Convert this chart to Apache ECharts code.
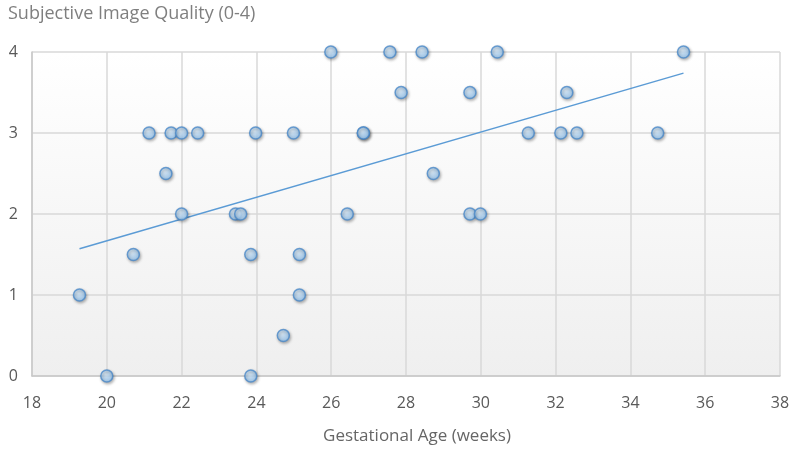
<!DOCTYPE html>
<html><head><meta charset="utf-8">
<script src="https://cdn.jsdelivr.net/npm/echarts@6/dist/echarts.min.js"></script>
<style>html,body{margin:0;padding:0;background:#fff}#c{width:793px;height:450px}</style>
</head><body><div id="c"></div>
<script>
const ageWeeks = [19.27,20.0,20.71,21.13,21.58,21.72,22.0,22.0,22.43,23.44,23.58,23.85,23.85,23.98,24.72,24.99,25.15,25.15,25.99,26.43,26.86,26.86,27.57,27.87,28.43,28.73,29.71,29.71,29.99,30.44,31.27,32.14,32.3,32.57,34.73,35.42];
const quality  = [1,0,1.5,3,2.5,3,3,2,3,2,2,1.5,0,3,0.5,3,1.5,1,4,2,3,3,4,3.5,4,2.5,3.5,2,2,4,3,3,3.5,3,3,4];
const xTicks = [18,20,22,24,26,28,30,32,34,36,38];
const yTicks = [0,1,2,3,4];
const yTitle = 'Subjective Image Quality (0-4)';
const xTitle = 'Gestational Age (weeks)';

const pts = ageWeeks.map((x,i)=>[x,quality[i]]);
// least-squares linear trend line
const n = pts.length;
const mx = ageWeeks.reduce((a,b)=>a+b,0)/n, my = quality.reduce((a,b)=>a+b,0)/n;
let sxy=0,sxx=0; for(let i=0;i<n;i++){sxy+=(ageWeeks[i]-mx)*(quality[i]-my);sxx+=(ageWeeks[i]-mx)**2;}
const slope=sxy/sxx, icpt=my-slope*mx;
const xmin=Math.min(...ageWeeks), xmax=Math.max(...ageWeeks);
const trend=[[xmin,icpt+slope*xmin],[xmax,icpt+slope*xmax]];

const font = '"Open Sans", sans-serif';
const chart = echarts.init(document.getElementById('c'));
chart.setOption({
  animation:false,
  backgroundColor:'#fff',
  title:{text:yTitle,left:3,top:0,textStyle:{fontFamily:font,fontSize:18,fontWeight:'normal',color:'#7f7f7f'}},
  grid:{left:32,right:13,top:52,bottom:72,show:true,borderWidth:0,
    backgroundColor:new echarts.graphic.LinearGradient(0,0,0,1,[{offset:0,color:'#ffffff'},{offset:1,color:'#efefef'}])},
  xAxis:{type:'value',min:xTicks[0],max:xTicks[xTicks.length-1],interval:2,
    name:xTitle,nameLocation:'middle',nameGap:52,
    nameTextStyle:{fontFamily:font,fontSize:17,color:'#666',padding:[0,0,0,22]},
    axisLine:{show:true,lineStyle:{color:'#c8c8c8',width:1.5}},axisTick:{show:false},
    axisLabel:{fontFamily:font,fontSize:16,color:'#595959',margin:19},
    splitLine:{show:true,lineStyle:{color:'#d9d9d9',width:1.5}}},
  yAxis:{type:'value',min:yTicks[0],max:yTicks[yTicks.length-1],interval:1,
    axisLine:{show:true,lineStyle:{color:'#c8c8c8',width:1.5}},axisTick:{show:false},
    axisLabel:{fontFamily:font,fontSize:16,color:'#595959',margin:14},
    splitLine:{show:true,lineStyle:{color:'#d9d9d9',width:1.5}}},
  series:[
    {type:'line',data:trend,showSymbol:false,symbol:'none',lineStyle:{color:'#5b9bd5',width:1.5},z:2,silent:true},
    {type:'scatter',data:pts,symbol:'circle',symbolSize:12,z:3,
      itemStyle:{color:new echarts.graphic.RadialGradient(0.4,0.35,0.7,[{offset:0,color:'#dcefff'},{offset:1,color:'#8fc2f0'}]),
        borderColor:'#4a88c8',borderWidth:1.5,shadowColor:'rgba(0,0,0,0.35)',shadowBlur:3,shadowOffsetX:1,shadowOffsetY:1.5}}
  ]
});
</script></body></html>
